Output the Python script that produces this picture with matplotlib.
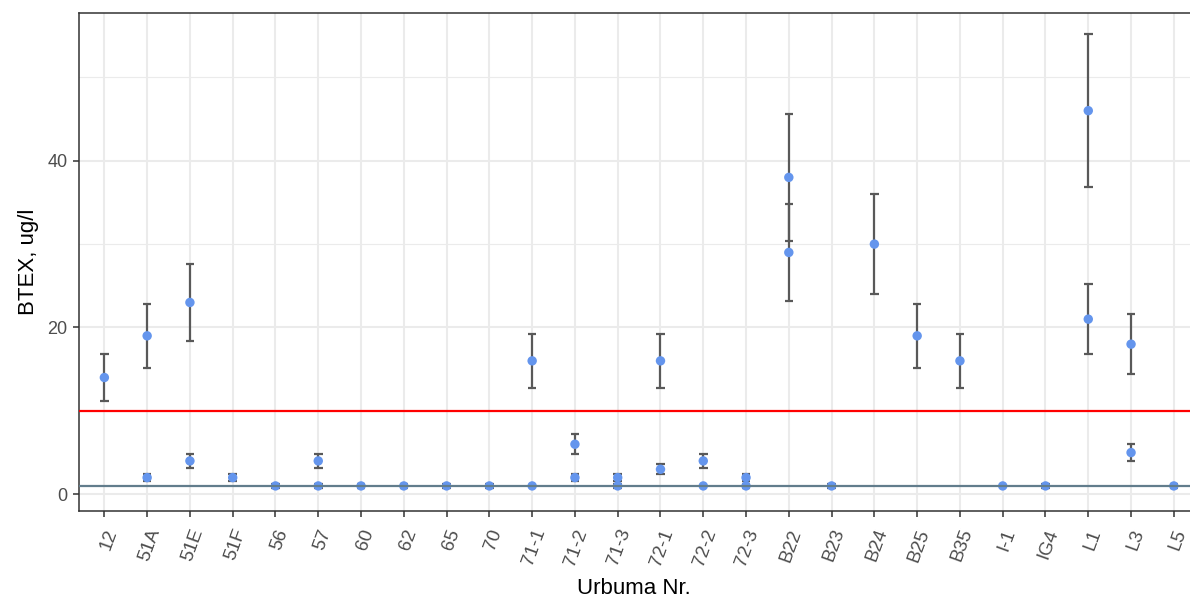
import numpy as np
import matplotlib
matplotlib.use("Agg")
import matplotlib.pyplot as plt

plt.rcParams['font.family'] = ['Liberation Sans', 'DejaVu Sans']

wells = ['12', '51A', '51E', '51F', '56', '57', '60', '62', '65', '70',
         '71-1', '71-2', '71-3', '72-1', '72-2', '72-3', 'B22', 'B23', 'B24',
         'B25', 'B35', 'I-1', 'IG4', 'L1', 'L3', 'L5']

# one row per measurement: well, value, lower and upper end of the bar (None = no bar)
meas_well = ['12', '51A', '51A', '51E', '51E', '51F', '56', '57', '57', '60', '62',
             '65', '70', '71-1', '71-1', '71-2', '71-2', '71-3', '71-3', '72-1',
             '72-1', '72-2', '72-2', '72-3', '72-3', 'B22', 'B22', 'B23', 'B24',
             'B25', 'B35', 'I-1', 'IG4', 'L1', 'L1', 'L3', 'L3', 'L5']
meas_val = [14, 19, 2, 23, 4, 2, 1, 4, 1, 1, 1,
            1, 1, 16, 1, 6, 2, 2, 1, 16,
            3, 4, 1, 2, 1, 38, 29, 1, 30,
            19, 16, 1, 1, 46, 21, 18, 5, 1]
meas_lo = [11.2, 15.2, 1.6, 18.4, 3.2, 1.6, 0.8, 3.2, 0.8, 0.8, 0.8,
           0.8, 0.8, 12.8, None, 4.8, 1.6, 1.6, 0.8, 12.8,
           2.4, 3.2, None, 1.6, 0.8, 30.4, 23.2, 0.8, 24.0,
           15.2, 12.8, None, 0.8, 36.8, 16.8, 14.4, 4.0, 0.8]
meas_hi = [16.8, 22.8, 2.4, 27.6, 4.8, 2.4, 1.2, 4.8, 1.2, 1.2, 1.2,
           1.2, 1.2, 19.2, None, 7.2, 2.4, 2.4, 1.2, 19.2,
           3.6, 4.8, None, 2.4, 1.2, 45.6, 34.8, 1.2, 36.0,
           22.8, 19.2, None, 1.2, 55.2, 25.2, 21.6, 6.0, 1.2]

limit_red = 10
limit_grey = 1

W, H = 1190, 597
fig = plt.figure(figsize=(W / 100, H / 100), dpi=100)
# panel runs a little past the right edge of the picture, as in the original
ax = fig.add_axes([78.7 / W, 1 - 510.7 / H, (1199.5 - 78.7) / W, (510.7 - 12.7) / H])

xpos = {w: i + 1 for i, w in enumerate(wells)}
x = np.array([xpos[w] for w in meas_well], dtype=float)

# error bars
for xi, lo, hi in zip(x, meas_lo, meas_hi):
    if lo is None:
        continue
    ax.plot([xi, xi], [lo, hi], color='#595959', lw=1.6, zorder=3, solid_capstyle='butt')
    for yy in (lo, hi):
        ax.plot([xi - 0.1, xi + 0.1], [yy, yy], color='#595959', lw=1.6, zorder=3,
                solid_capstyle='butt')

ax.scatter(x, meas_val, s=46, color='#6495ED', edgecolors='none', zorder=4)

ax.axhline(limit_red, color='#FF0000', lw=1.6, zorder=5)
ax.axhline(limit_grey, color='#627D8C', lw=1.6, zorder=5)

ax.set_xlim(0.4, 26.6)
ax.set_ylim(-1.97, 57.75)
ax.set_xticks(range(1, len(wells) + 1))
ax.set_xticklabels(wells, rotation=70, ha='right', va='top', rotation_mode='anchor',
                   fontsize=13.5, color='#4D4D4D')
ax.set_yticks([0, 20, 40])
ax.set_yticks([10, 30, 50], minor=True)
ax.tick_params(axis='y', labelsize=13, labelcolor='#4D4D4D')
ax.tick_params(axis='both', which='major', length=4.5, width=1.1, color='#333333')
ax.tick_params(axis='y', which='minor', length=0)
ax.tick_params(axis='x', pad=7)

ax.grid(True, which='major', color='#EBEBEB', lw=1.5, zorder=0)
ax.grid(True, which='minor', axis='y', color='#EBEBEB', lw=0.8, zorder=0)
ax.set_axisbelow(True)
for sp in ax.spines.values():
    sp.set_color('#333333')
    sp.set_linewidth(1.1)

ax.set_xlabel('Urbuma Nr.', fontsize=16, labelpad=5)
ax.xaxis.set_label_coords((634.0 - 78.7) / (1199.5 - 78.7), -0.135)
ax.set_ylabel('BTEX, ug/l', fontsize=16, labelpad=6)

fig.savefig('out.png', dpi=100)
